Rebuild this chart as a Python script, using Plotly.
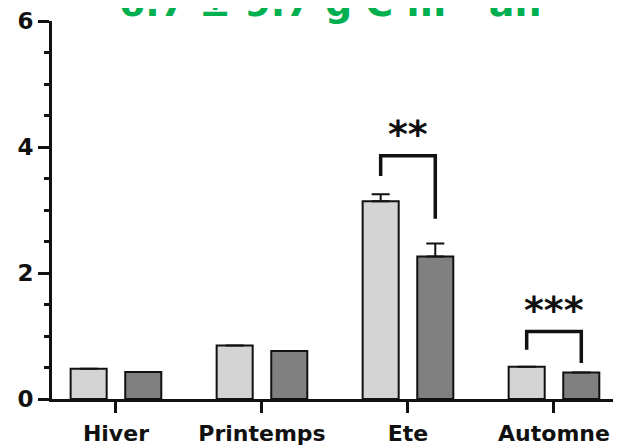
import plotly.graph_objects as go

categories = ["Hiver", "Printemps", "Ete", "Automne"]
series_a = [0.48, 0.85, 3.14, 0.51]      # light grey bars
series_b = [0.43, 0.76, 2.26, 0.42]      # dark grey bars
err_a = [0.0, 0.0, 0.11, 0.0]
err_b = [0.0, 0.0, 0.21, 0.0]
y_tick_vals = [0, 2, 4, 6]
title_text = "-6.7 ± 9.7 g C m<sup>-2</sup> an<sup>-1</sup>"
sig_index = [2, 3]
sig_labels = ["**", "***"]
sig_left_y = [3.54, 0.78]
sig_right_y = [2.86, 0.57]
sig_top_y = [3.86, 1.07]

BLACK = "#111111"
fig = go.Figure()
fig.add_trace(go.Bar(
    x=categories, y=series_a, name="a",
    marker=dict(color="#d4d4d4", line=dict(color=BLACK, width=2)),
    error_y=dict(type="data", array=err_a, arrayminus=[0]*4, symmetric=False,
                 color=BLACK, thickness=2, width=9),
))
fig.add_trace(go.Bar(
    x=categories, y=series_b, name="b",
    marker=dict(color="#808080", line=dict(color=BLACK, width=2)),
    error_y=dict(type="data", array=err_b, arrayminus=[0]*4, symmetric=False,
                 color=BLACK, thickness=2, width=9),
))

off = 0.187
for i, lab, yl, yr, yt in zip(sig_index, sig_labels, sig_left_y, sig_right_y, sig_top_y):
    fig.add_shape(type="path",
                  path=f"M {i-off},{yl} L {i-off},{yt} L {i+off},{yt} L {i+off},{yr}",
                  xref="x", yref="y", line=dict(color=BLACK, width=3.5))
    fig.add_annotation(x=i, y=yt + 0.34, xref="x", yref="y", text=lab, showarrow=False,
                       yanchor="middle",
                       font=dict(family="DejaVu Sans", size=38, color=BLACK, weight="bold"))

fig.add_annotation(x=0.501, y=0.985, xref="paper", yref="paper", text=title_text,
                   showarrow=False, yanchor="bottom", xanchor="center",
                   font=dict(family="DejaVu Sans", size=38, color="#00b050", weight="bold"))

# page body adds an 8px margin, so the figure is sized/offset to compensate
fig.update_layout(
    width=613, height=438,
    margin=dict(l=44, r=0, t=13, b=47, autoexpand=False),
    paper_bgcolor="white", plot_bgcolor="white",
    showlegend=False,
    barmode="group", bargap=0.252, bargroupgap=0.34,
)
fig.update_xaxes(
    range=[-0.438, 3.459], showline=True, linewidth=3, linecolor=BLACK,
    ticks="outside", ticklen=11, tickwidth=3, tickcolor=BLACK, automargin=False,
    ticklabelstandoff=2,
    tickfont=dict(family="DejaVu Sans", size=22, color=BLACK, weight="bold"),
    showgrid=False, zeroline=False,
)
fig.update_yaxes(
    range=[0, 6], tickvals=y_tick_vals, showline=True, linewidth=3, linecolor=BLACK,
    ticks="outside", ticklen=11, tickwidth=3, tickcolor=BLACK, automargin=False,
    minor=dict(dtick=0.5, ticks="outside", ticklen=5, tickwidth=3, tickcolor=BLACK, showgrid=False),
    tickfont=dict(family="DejaVu Sans", size=23, color=BLACK, weight="bold"),
    showgrid=False, zeroline=False,
)

fig.write_html("out.html")
